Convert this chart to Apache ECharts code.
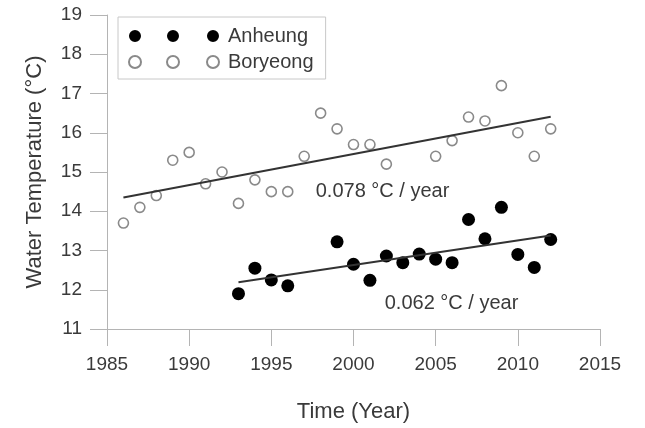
<!DOCTYPE html>
<html lang="en">
<head>
    <meta charset="UTF-8">
    <script src="https://cdn.jsdelivr.net/npm/echarts@6.0.0/dist/echarts.min.js"></script>
    <style>
        html, body { margin: 0; padding: 0; background: #fff; }
    </style>
</head>
<body>
<div id="tempChart" style="width: 645px;height:428px;"></div>
<script type="text/javascript">

    // annual mean water temperature
    var anheungYears = [1993, 1994, 1995, 1996, 1999, 2000, 2001, 2002, 2003, 2004, 2005, 2006, 2007, 2008, 2009, 2010, 2011, 2012];
    var anheungTemp  = [11.9, 12.55, 12.25, 12.1, 13.22, 12.65, 12.24, 12.86, 12.69, 12.91, 12.78, 12.69, 13.79, 13.3, 14.1, 12.9, 12.57, 13.28];

    var boryeongYears = [1986, 1987, 1988, 1989, 1990, 1991, 1992, 1993, 1994, 1995, 1996, 1997, 1998, 1999, 2000, 2001, 2002, 2005, 2006, 2007, 2008, 2009, 2010, 2011, 2012];
    var boryeongTemp  = [13.7, 14.1, 14.4, 15.3, 15.5, 14.7, 15.0, 14.2, 14.8, 14.5, 14.5, 15.4, 16.5, 16.1, 15.7, 15.7, 15.2, 15.4, 15.8, 16.4, 16.3, 17.2, 16.0, 15.4, 16.1];

    // fitted trend lines (end points)
    var anheungTrend  = [[1993, 12.19], [2012, 13.38]];
    var boryeongTrend = [[1986, 14.35], [2012, 16.41]];

    var xTicks = { min: 1985, max: 2015, step: 5 };
    var yTicks = { min: 11, max: 19, step: 1 };

    function zip(xs, ys) {
        return xs.map((x, i) => [x, ys[i]]);
    }

    var font = "Liberation Sans, Arial, sans-serif";
    var textColor = "#3a3a3a";
    var axisColor = "#b4b4b4";
    // three dots in a row, like the original key
    var threeDots = "path://M0,6a6,6 0 1,0 12,0a6,6 0 1,0 -12,0M38,6a6,6 0 1,0 12,0a6,6 0 1,0 -12,0M78,6a6,6 0 1,0 12,0a6,6 0 1,0 -12,0";

    var chart = echarts.init(document.getElementById("tempChart"));

    function slopeLabel(coord, text) {
        return {
            symbol: "rect",
            symbolSize: 0,
            silent: true,
            label: {
                show: true,
                position: "right",
                distance: 0,
                formatter: text,
                color: textColor,
                fontFamily: font,
                fontSize: 20
            },
            data: [{ coord: coord }]
        };
    }

    var option = {
        animation: false,
        backgroundColor: "#fff",
        grid: { left: 107, right: 45, top: 15, bottom: 90 },
        legend: {
            orient: "vertical",
            left: 118,
            top: 17,
            padding: [9, 12, 7, 10],
            itemWidth: 90,
            itemHeight: 12,
            itemGap: 6,
            borderColor: "#c8c8c8",
            borderWidth: 1,
            backgroundColor: "#fff",
            textStyle: { color: textColor, fontFamily: font, fontSize: 20, padding: [0, 0, 0, 4] },
            data: [
                { name: "Anheung", icon: threeDots },
                { name: "Boryeong", icon: threeDots }
            ]
        },
        xAxis: {
            type: "value",
            min: xTicks.min,
            max: xTicks.max,
            interval: xTicks.step,
            name: "Time (Year)",
            nameLocation: "middle",
            nameGap: 72,
            nameTextStyle: { color: textColor, fontFamily: font, fontSize: 22 },
            axisLine: { show: true, lineStyle: { color: axisColor, width: 1 } },
            axisTick: { show: true, length: 17, lineStyle: { color: axisColor } },
            axisLabel: { color: textColor, fontFamily: font, fontSize: 19, margin: 26, formatter: v => String(v) },
            splitLine: { show: false }
        },
        yAxis: {
            type: "value",
            min: yTicks.min,
            max: yTicks.max,
            interval: yTicks.step,
            name: "Water Temperature (°C)",
            nameLocation: "middle",
            nameGap: 61,
            nameTextStyle: { color: textColor, fontFamily: font, fontSize: 22 },
            axisLine: { show: true, lineStyle: { color: axisColor, width: 1 } },
            axisTick: { show: true, length: 17, lineStyle: { color: axisColor } },
            axisLabel: { color: textColor, fontFamily: font, fontSize: 19, margin: 25 },
            splitLine: { show: false }
        },
        series: [
            {
                name: "Boryeong trend",
                type: "line",
                data: boryeongTrend,
                showSymbol: false,
                silent: true,
                lineStyle: { color: "#333", width: 2 },
                markPoint: slopeLabel([1997.7, 14.5], "0.078 °C / year")
            },
            {
                name: "Anheung trend",
                type: "line",
                data: anheungTrend,
                showSymbol: false,
                silent: true,
                lineStyle: { color: "#333", width: 2 },
                markPoint: slopeLabel([2001.9, 11.65], "0.062 °C / year")
            },
            {
                name: "Boryeong",
                type: "scatter",
                data: zip(boryeongYears, boryeongTemp),
                symbol: "circle",
                symbolSize: 10,
                itemStyle: { color: "#fff", borderColor: "#8a8a8a", borderWidth: 1.6, opacity: 1 }
            },
            {
                name: "Anheung",
                type: "scatter",
                data: zip(anheungYears, anheungTemp),
                symbol: "circle",
                symbolSize: 13,
                itemStyle: { color: "#000", opacity: 1 }
            }
        ]
    };

    chart.setOption(option);
</script>
</body>
</html>
